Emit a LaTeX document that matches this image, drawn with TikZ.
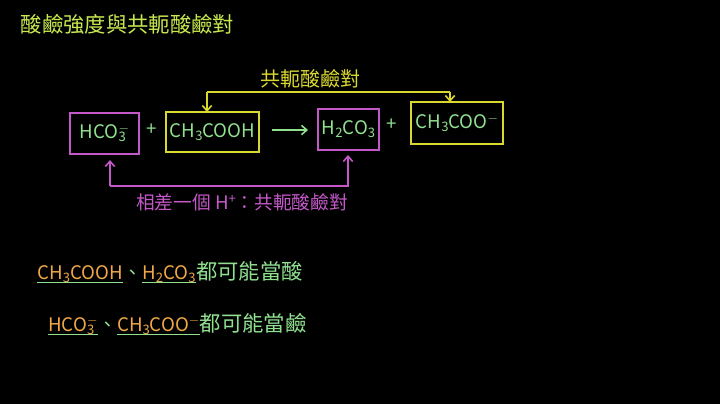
\documentclass[tikz,border=0pt]{standalone}
\usepackage{fontspec}
\setmainfont{Noto Sans CJK TC}
\usetikzlibrary{arrows.meta}
\definecolor{gr}{HTML}{90E090}
\definecolor{ye}{HTML}{D8D830}
\definecolor{mg}{HTML}{C458C8}
\definecolor{og}{HTML}{F0A848}
\definecolor{tt}{HTML}{C8E850}
\newcommand{\sbs}[1]{\raisebox{-0.3ex}{\scalebox{0.7}{#1}}}
\newcommand{\sps}[1]{\raisebox{0.6ex}{\scalebox{0.7}{#1}}}
\newcommand{\spsb}[2]{\ooalign{\sps{#2}\cr\sbs{#1}}}
\tikzset{
 ybox/.style={draw=ye,line width=1.3pt,text=gr,font=\fontsize{14}{16}\selectfont,inner sep=0pt,minimum height=30pt},
 mbox/.style={draw=mg,line width=1.3pt,text=gr,font=\fontsize{14}{16}\selectfont,inner sep=0pt,minimum height=31pt},
 lbl/.style={font=\fontsize{14}{16}\selectfont,inner sep=0pt},
 arr/.style={line width=1.2pt,-{Straight Barb[length=4pt,width=7pt]}}
}
\begin{document}
\begin{tikzpicture}[x=0.75pt,y=-0.75pt]
\fill[black] (0,0) rectangle (720,404);
\useasboundingbox (0,0) rectangle (720,404);
\node[anchor=west,text=tt,font=\fontsize{16}{18}\selectfont] (title) at (16,24) {酸鹼強度與共軛酸鹼對};
\node[mbox,minimum width=52pt] (hco) at (104.5,133.5) {HCO\spsb{3}{$-$}};
\node[text=gr,lbl] (p1) at (152,130) {+};
\node[ybox,minimum width=70pt] (ach) at (212.5,132) {CH\sbs{3}COOH};
\node[mbox,minimum width=46pt] (hh) at (348.5,129.5) {H\sbs{2}CO\sbs{3}};
\node[text=gr,lbl] (p2) at (392,125) {+};
\node[ybox,minimum width=69pt,minimum height=31pt] (ac) at (457,123) {CH\sbs{3}COO\sps{$-$}};
\coordinate (a1) at (272,130); \coordinate (a2) at (308,130);
\draw[gr,arr] (a1) -- (a2);
\coordinate (yl) at (207,92); \coordinate (yr) at (450,92);
\draw[ye,line width=1.2pt] (yl) -- (yr);
\draw[ye,arr] (yl) -- (207,112);
\draw[ye,arr] (yr) -- (450,102);
\node[text=ye,font=\fontsize{15}{17}\selectfont] (t1) at (310,79) {共軛酸鹼對};
\coordinate (ml) at (110,186); \coordinate (mr) at (348,186);
\draw[mg,arr] (ml) -- (110,160);
\draw[mg,arr] (ml) -- (mr) -- (348,155);
\node[text=mg,lbl] (t2) at (242,202) {相差一個 H\sps{+}：共軛酸鹼對};
\node[anchor=base west,lbl,text=og] (b1) at (37,279) {CH\sbs{3}COOH};
\node[anchor=base west,lbl,text=gr] (b2) at (b1.base east) {、};
\node[anchor=base west,lbl,text=og] (b3) at (b2.base east) {H\sbs{2}CO\sbs{3}};
\node[anchor=base west,lbl,text=gr,font=\fontsize{16}{18}\selectfont] (b4) at (b3.base east) {都可能當酸};
\draw[gr,line width=1pt] (b1.south west) -- (b1.south east);
\draw[gr,line width=1pt] (b3.south west) -- (b3.south east);
\node[anchor=base west,lbl,text=og] (c1) at (48,331) {HCO\spsb{3}{$-$}};
\node[anchor=base west,lbl,text=gr] (c2) at (c1.base east) {、};
\node[anchor=base west,lbl,text=og] (c3) at (c2.base east) {CH\sbs{3}COO\sps{$-$}};
\node[anchor=base west,lbl,text=gr,font=\fontsize{16}{18}\selectfont] (c4) at (c3.base east) {都可能當鹼};
\draw[gr,line width=1pt] (c1.south west) -- (c1.south east);
\draw[gr,line width=1pt] (c3.south west) -- (c3.south east);
\end{tikzpicture}
\end{document}
